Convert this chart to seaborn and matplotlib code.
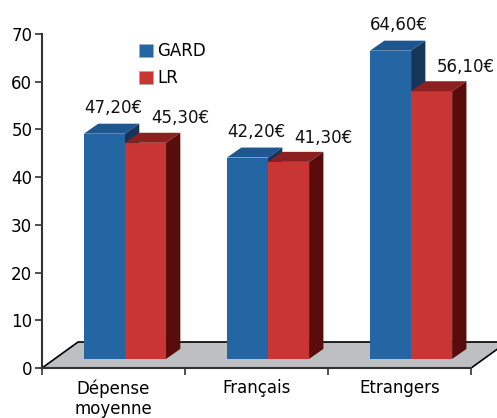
import matplotlib
matplotlib.use("Agg")
import matplotlib.pyplot as plt
from matplotlib.patches import Polygon, Patch
import numpy as np
import pandas as pd
import seaborn as sns

categories = ["Dépense\nmoyenne", "Français", "Etrangers"]
series = ["GARD", "LR"]
gard_values = [47.2, 42.2, 64.6]
lr_values = [45.3, 41.3, 56.1]
gard_labels = ["47,20€", "42,20€", "64,60€"]
lr_labels = ["45,30€", "41,30€", "56,10€"]

front = {"GARD": "#2465a3", "LR": "#c93533"}
top = {"GARD": "#1e5690", "LR": "#8c2020"}
side = {"GARD": "#153559", "LR": "#5a0c0c"}

# 3d look, in data units
DX, DY = 0.10, 2.1          # bar depth
SHIFT_X, SHIFT_Y = 0.08, 1.9  # bar set back from floor front edge
FLOOR_DX, FLOOR_DY = 0.252, 5.45

df = pd.DataFrame({
    "cat": categories * 2,
    "serie": ["GARD"] * 3 + ["LR"] * 3,
    "value": gard_values + lr_values,
})

plt.rcParams["font.family"] = ["DejaVu Sans"]
fig = plt.figure(figsize=(4.97, 4.18), dpi=100)
ax = fig.add_axes([0.0845, 0.1196, 0.8635, 0.7991])

sns.barplot(data=df, x="cat", y="value", hue="serie", order=categories,
            hue_order=series, palette=front, width=0.574, gap=0,
            saturation=1, linewidth=0, legend=False, ax=ax)

# floor
floor = Polygon([(-0.5, 0), (2.5, 0), (2.5 + FLOOR_DX, FLOOR_DY),
                 (-0.5 + FLOOR_DX, FLOOR_DY)], closed=True,
                facecolor="#bebfc1", edgecolor="black", linewidth=1.2,
                zorder=1, clip_on=False)
ax.add_patch(floor)

bars = [p for p in ax.patches if p is not floor]
for i, p in enumerate(bars):
    name = series[i // 3]
    z = 3 if name == "GARD" else 4
    p.set_x(p.get_x() + SHIFT_X)
    p.set_y(p.get_y() + SHIFT_Y)
    p.set_zorder(z)
    x0, y0 = p.get_x(), p.get_y()
    x1, y1 = x0 + p.get_width(), y0 + p.get_height()
    ax.add_patch(Polygon([(x0, y1), (x1, y1), (x1 + DX, y1 + DY),
                          (x0 + DX, y1 + DY)], closed=True,
                         facecolor=top[name], linewidth=0, zorder=z))
    ax.add_patch(Polygon([(x1, y0), (x1 + DX, y0 + DY), (x1 + DX, y1 + DY),
                          (x1, y1)], closed=True,
                         facecolor=side[name], linewidth=0, zorder=z))
    xc = (x0 + x1) / 2
    if name == "GARD":
        ax.text(xc + 0.06, p.get_height() + 7.3, gard_labels[i % 3],
                ha="center", va="center", fontsize=12, color="#111111")
    else:
        ax.text(xc + 0.24, p.get_height() + 7.0, lr_labels[i % 3],
                ha="center", va="center", fontsize=12, color="#111111")

ax.set_xlim(-0.5, 2.5)
ax.set_ylim(0, 70)
ax.set_yticks(range(0, 71, 10))
ax.set_xticks([-0.5, 0.5, 1.5, 2.5])
ax.set_xticklabels([])
ax.set_xticks([0, 1, 2], minor=True)
ax.set_xticklabels(categories, minor=True, fontsize=12)
ax.tick_params(axis="x", which="minor", length=0, pad=8)
ax.tick_params(axis="x", which="major", length=5, width=1.2, color="#333333")
ax.tick_params(axis="y", length=5, width=1.2, color="#333333",
               labelsize=12, pad=2)
ax.set_xlabel("")
ax.set_ylabel("")
for s in ["top", "right"]:
    ax.spines[s].set_visible(False)
for s in ["left", "bottom"]:
    ax.spines[s].set_color("#333333")
    ax.spines[s].set_linewidth(1.5)
    ax.spines[s].set_zorder(6)

handles = [Patch(facecolor=front[s], edgecolor="#aaaaaa", linewidth=0.5)
           for s in series]
ax.legend(handles, series, loc="upper left", bbox_to_anchor=(0.21, 0.995),
          frameon=False, fontsize=12, handlelength=0.85, handleheight=0.85,
          handletextpad=0.25, labelspacing=0.55, borderaxespad=0)

fig.savefig("out.png", dpi=100)
